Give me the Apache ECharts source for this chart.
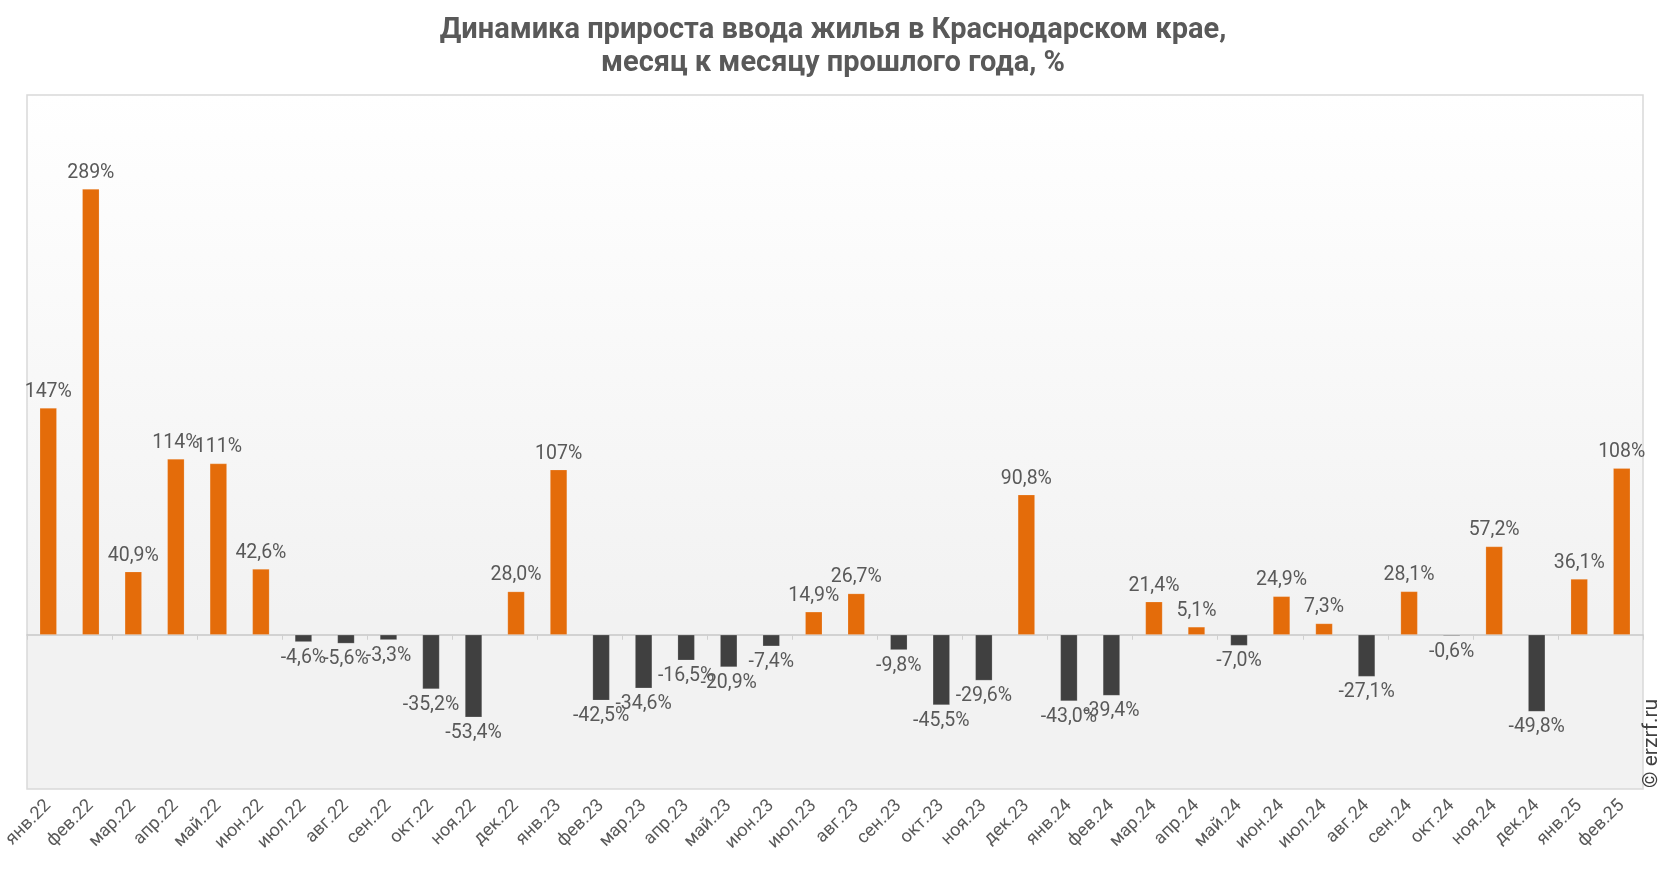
<!DOCTYPE html>
<html>
<head>
<meta charset="utf-8">
<script src="https://cdn.jsdelivr.net/npm/echarts@6/dist/echarts.min.js"></script>
<style>
html,body{margin:0;padding:0;background:#fff;}
#chart{width:1666px;height:872px;}
</style>
</head>
<body>
<div id="chart"></div>
<script>
const categories = ['янв.22','фев.22','мар.22','апр.22','май.22','июн.22','июл.22','авг.22','сен.22','окт.22','ноя.22','дек.22',
  'янв.23','фев.23','мар.23','апр.23','май.23','июн.23','июл.23','авг.23','сен.23','окт.23','ноя.23','дек.23',
  'янв.24','фев.24','мар.24','апр.24','май.24','июн.24','июл.24','авг.24','сен.24','окт.24','ноя.24','дек.24',
  'янв.25','фев.25'];
const values = [147, 289, 40.9, 114, 111, 42.6, -4.6, -5.6, -3.3, -35.2, -53.4, 28.0,
  107, -42.5, -34.6, -16.5, -20.9, -7.4, 14.9, 26.7, -9.8, -45.5, -29.6, 90.8,
  -43.0, -39.4, 21.4, 5.1, -7.0, 24.9, 7.3, -27.1, 28.1, -0.6, 57.2, -49.8,
  36.1, 108];
const titleText = 'Динамика прироста ввода жилья в Краснодарском крае,\nмесяц к месяцу прошлого года, %';
const watermark = '© erzrf.ru';

const COLOR_POS = '#e46c0a';
const COLOR_NEG = '#404040';
const TEXT = '#595959';

function fmt(v){
  if (Math.abs(v) >= 100) return Math.round(v) + '%';
  return v.toFixed(1).replace('.', ',') + '%';
}

const seriesData = values.map(v => ({
  value: v,
  itemStyle: { color: v >= 0 ? COLOR_POS : COLOR_NEG },
  label: { position: v >= 0 ? 'top' : 'bottom' }
}));

const chart = echarts.init(document.getElementById('chart'), null, {renderer:'canvas'});
chart.setOption({
  animation: false,
  backgroundColor: '#ffffff',
  textStyle: { fontFamily: 'Roboto' },
  title: {
    text: titleText,
    left: 'center',
    top: 9,
    textStyle: { fontFamily: 'Roboto', fontWeight: 'bold', fontSize: 29, lineHeight: 33, color: TEXT }
  },
  grid: {
    left: 27, right: 23, top: 95, bottom: 83,
    show: true,
    borderColor: '#d9d9d9',
    borderWidth: 1.5,
    backgroundColor: { type: 'linear', x: 0, y: 0, x2: 0, y2: 1,
      colorStops: [{offset: 0, color: '#ffffff'}, {offset: 0.75, color: '#f2f2f2'}, {offset: 1, color: '#f2f2f2'}] }
  },
  xAxis: [{
    type: 'category',
    data: categories,
    position: 'bottom',
    axisLine: { show: false, onZero: false },
    axisTick: { show: false },
    axisLabel: { rotate: 45, margin: 14, fontSize: 18, color: TEXT, interval: 0 }
  }, {
    type: 'category',
    data: categories,
    position: 'bottom',
    axisLine: { show: true, onZero: true, lineStyle: { color: '#c8c8c8', width: 1.5 } },
    axisTick: { show: true, length: 5, lineStyle: { color: '#d0d0d0' } },
    axisLabel: { show: false }
  }],
  yAxis: {
    type: 'value',
    min: -100, max: 350, interval: 50,
    show: false,
    splitLine: { show: false }
  },
  graphic: [{
    type: 'text',
    rotation: Math.PI / 2,
    x: 1641, y: 788,
    style: { text: watermark, font: '21px Roboto', fill: '#404040', textAlign: 'left', textVerticalAlign: 'top' }
  }],
  series: [{
    type: 'bar',
    xAxisIndex: 0,
    data: seriesData,
    barWidth: 17,
    itemStyle: { borderColor: 'rgba(255,255,255,0.35)', borderWidth: 0.5 },
    label: {
      show: true,
      distance: 6,
      fontSize: 19.5,
      color: TEXT,
      formatter: p => fmt(p.value)
    }
  }]
});
</script>
</body>
</html>
